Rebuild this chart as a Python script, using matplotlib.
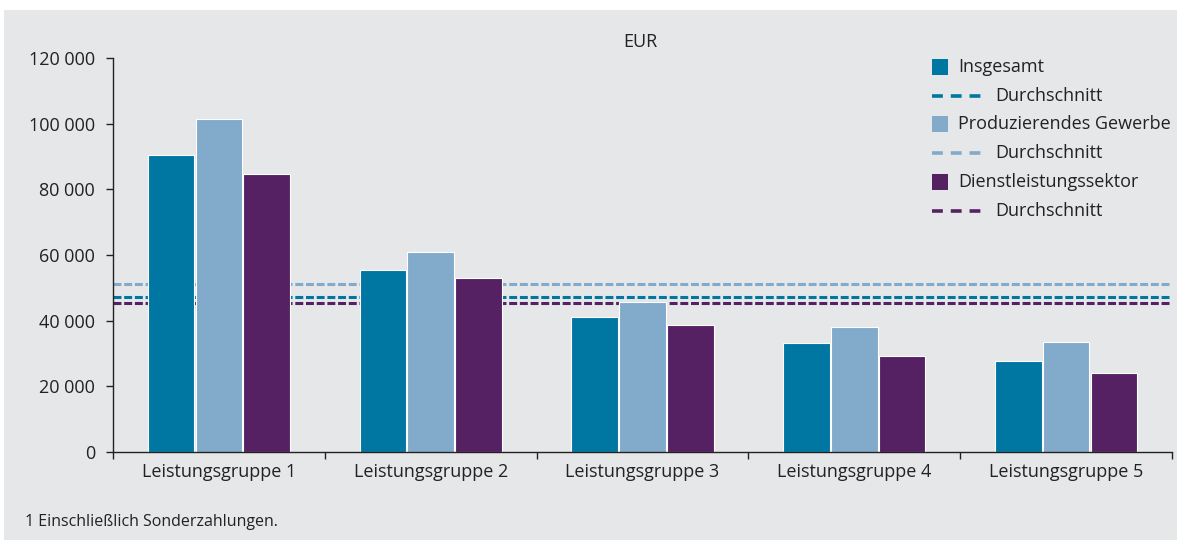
import matplotlib
matplotlib.use("Agg")
import matplotlib.pyplot as plt
from matplotlib.patches import Rectangle
from matplotlib.lines import Line2D
import numpy as np

plt.rcParams['font.family'] = ['Open Sans', 'DejaVu Sans']

# data
groups = ["Leistungsgruppe 1", "Leistungsgruppe 2", "Leistungsgruppe 3",
          "Leistungsgruppe 4", "Leistungsgruppe 5"]
insgesamt = [90500, 55400, 41100, 33200, 27700]
produzierend = [101400, 60900, 45700, 38100, 33500]
dienstleistung = [84700, 53000, 38700, 29200, 24100]
avg_insgesamt = 47200
avg_produzierend = 51200
avg_dienstleistung = 45400
yticks = [0, 20000, 40000, 60000, 80000, 100000, 120000]

c_teal = "#0076a3"
c_light = "#82aacb"
c_purple = "#562163"
bg = "#e6e7e9"
txt = "#222222"
fs = 13

fig = plt.figure(figsize=(11.77, 5.40), dpi=100, facecolor="white")
# grey panel behind everything
fig.patches.append(Rectangle((4 / 1177, 0), 1 - 4 / 1177, 1 - 10 / 540,
                             transform=fig.transFigure, facecolor=bg,
                             edgecolor="none", zorder=-10))

ax = fig.add_axes([113 / 1177, 1 - 452 / 540, (1172 - 113) / 1177, (452 - 58) / 540])
ax.set_facecolor("none")
ax.set_zorder(1)

# average lines sit behind the bars
for val, col in [(avg_produzierend, c_light), (avg_insgesamt, c_teal),
                 (avg_dienstleistung, c_purple)]:
    ax.axhline(val, color=col, lw=2.2, dashes=(2.6, 0.9), zorder=1)

x = np.arange(len(groups))
w = 0.22
step = 0.226
series = [(insgesamt, c_teal), (produzierend, c_light), (dienstleistung, c_purple)]
for i, (vals, col) in enumerate(series):
    ax.bar(x + (i - 1) * step, vals, width=w, color=col, edgecolor="white",
           linewidth=0.8, zorder=2)

ax.set_xlim(-0.5, len(groups) - 0.5)
ax.set_ylim(0, 120000)
ax.set_yticks(yticks)
ax.set_yticklabels([f"{v:,}".replace(",", " ") for v in yticks])
ax.set_xticks(x)
ax.set_xticklabels(groups)
ax.set_xticks(np.arange(len(groups) + 1) - 0.5, minor=True)
ax.tick_params(axis="x", which="major", length=0, pad=8, labelsize=fs, colors=txt)
ax.tick_params(axis="x", which="minor", length=5, width=1, color=txt)
ax.tick_params(axis="y", length=5, width=1, pad=8, labelsize=fs, colors=txt)
for s in ["top", "right"]:
    ax.spines[s].set_visible(False)
for s in ["left", "bottom"]:
    ax.spines[s].set_color(txt)
    ax.spines[s].set_linewidth(1)
    ax.spines[s].set_zorder(4)

fig.text(640 / 1177, 1 - 42 / 540, "EUR", ha="center", va="center",
         fontsize=fs, color=txt)
fig.text(25 / 1177, 1 - 522 / 540, "1 Einschließlich Sonderzahlungen.",
         ha="left", va="center", fontsize=11.5, color=txt)

# legend drawn by hand in figure pixels
legend_items = [("patch", c_teal, "Insgesamt"),
                ("line", c_teal, "Durchschnitt"),
                ("patch", c_light, "Produzierendes Gewerbe"),
                ("line", c_light, "Durchschnitt"),
                ("patch", c_purple, "Dienstleistungssektor"),
                ("line", c_purple, "Durchschnitt")]
for k, (kind, col, label) in enumerate(legend_items):
    yc = 67 + k * 28.7
    yf = 1 - yc / 540
    if kind == "patch":
        fig.patches.append(Rectangle((932 / 1177, 1 - (yc + 8) / 540), 16 / 1177, 16 / 540,
                                     transform=fig.transFigure, facecolor=col,
                                     edgecolor="none", zorder=5))
        fig.text(958 / 1177, yf, label, ha="left", va="center", fontsize=fs, color=txt)
    else:
        fig.lines.append(Line2D([932 / 1177, 981 / 1177], [yf, yf], transform=fig.transFigure,
                                color=col, lw=2.6, dashes=(3.0, 2.2), zorder=5))
        fig.text(995 / 1177, yf, label, ha="left", va="center", fontsize=fs, color=txt)

fig.savefig("out.png", dpi=100, facecolor=fig.get_facecolor())
